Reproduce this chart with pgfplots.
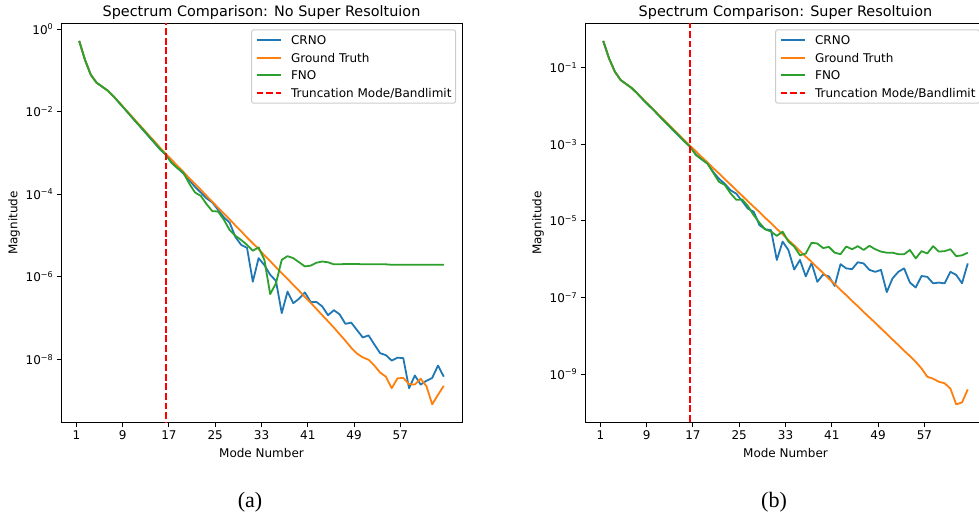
\documentclass[border=0pt]{standalone}
\usepackage{pgfplots}
\pgfplotsset{compat=1.18}
\usepackage{pgfplotstable}
\usepackage{fontspec}
\setmainfont{DejaVu Sans}
\newfontfamily\capfont{Liberation Serif}
\definecolor{mplblue}{HTML}{1F77B4}
\definecolor{mplorange}{HTML}{FF7F0E}
\definecolor{mplgreen}{HTML}{2CA02C}

\pgfplotstableread{
k gt crno fno
1 0.513 0.513 0.513
2 0.178 0.178 0.178
3 0.0776 0.0776 0.0776
4 0.0501 0.0501 0.0501
5 0.0398 0.0398 0.0398
6 0.0316 0.0316 0.0316
7 0.0229 0.0229 0.0229
8 1.62e-2 1.58e-2 1.58e-2
9 1.12e-2 1.10e-2 1.10e-2
10 7.94e-3 7.59e-3 7.59e-3
11 5.50e-3 5.25e-3 5.25e-3
12 3.89e-3 3.63e-3 3.72e-3
13 2.69e-3 2.51e-3 2.57e-3
14 1.91e-3 1.74e-3 1.78e-3
15 1.32e-3 1.20e-3 1.23e-3
16 9.33e-4 8.91e-4 8.91e-4
17 6.76e-4 5.75e-4 5.62e-4
18 4.79e-4 4.27e-4 4.27e-4
19 3.47e-4 3.16e-4 3.31e-4
20 2.45e-4 2.19e-4 1.82e-4
21 1.78e-4 1.51e-4 1.10e-4
22 1.29e-4 1.10e-4 9.12e-5
23 9.12e-5 7.94e-5 5.75e-5
24 6.61e-5 6.31e-5 3.89e-5
25 4.68e-5 4.17e-5 3.80e-5
26 3.39e-5 2.75e-5 2.40e-5
27 2.45e-5 2.04e-5 1.35e-5
28 1.74e-5 9.12e-6 9.77e-6
29 1.26e-5 5.89e-6 7.76e-6
30 8.91e-6 5.01e-6 5.89e-6
31 6.46e-6 7.59e-7 4.27e-6
32 4.68e-6 2.82e-6 5.13e-6
33 3.31e-6 1.91e-6 2.57e-6
34 2.40e-6 1.12e-6 3.80e-7
35 1.70e-6 7.94e-7 6.92e-7
36 1.23e-6 1.32e-7 2.57e-6
37 8.91e-7 4.37e-7 3.16e-6
38 6.31e-7 2.29e-7 2.82e-6
39 4.57e-7 2.95e-7 2.24e-6
40 3.24e-7 4.17e-7 1.78e-6
41 2.34e-7 2.45e-7 1.86e-6
42 1.66e-7 2.45e-7 2.19e-6
43 1.17e-7 1.91e-7 2.34e-6
44 8.32e-8 1.17e-7 2.24e-6
45 5.89e-8 1.55e-7 2.00e-6
46 4.07e-8 1.23e-7 2.00e-6
47 2.82e-8 7.24e-8 2.04e-6
48 1.91e-8 7.76e-8 2.04e-6
49 1.38e-8 5.13e-8 2.04e-6
50 1.12e-8 3.39e-8 2.00e-6
51 9.77e-9 3.80e-8 2.00e-6
52 7.08e-9 2.29e-8 2.00e-6
53 4.79e-9 1.41e-8 2.00e-6
54 3.80e-9 1.26e-8 2.00e-6
55 2.00e-9 9.33e-9 1.95e-6
56 3.47e-9 1.10e-8 1.95e-6
57 3.55e-9 1.07e-8 1.95e-6
58 2.51e-9 2.00e-9 1.95e-6
59 2.45e-9 4.07e-9 1.95e-6
60 3.39e-9 2.45e-9 1.95e-6
61 2.24e-9 3.02e-9 1.95e-6
62 8.13e-10 3.55e-9 1.95e-6
63 1.38e-9 7.08e-9 1.95e-6
64 2.29e-9 3.80e-9 1.95e-6
}\leftdata

\pgfplotstableread{
k gt crno fno
1 0.501 0.501 0.501
2 0.176 0.176 0.176
3 0.0794 0.0794 0.0794
4 0.0479 0.0479 0.0479
5 0.0372 0.0372 0.0372
6 0.0288 0.0288 0.0288
7 0.0204 0.0204 0.0204
8 1.45e-2 1.41e-2 1.41e-2
9 1.02e-2 1.00e-2 1.00e-2
10 7.24e-3 7.08e-3 7.08e-3
11 5.13e-3 4.90e-3 4.90e-3
12 3.63e-3 3.47e-3 3.47e-3
13 2.57e-3 2.40e-3 2.45e-3
14 1.82e-3 1.70e-3 1.74e-3
15 1.29e-3 1.20e-3 1.20e-3
16 9.12e-4 8.71e-4 8.71e-4
17 6.61e-4 5.50e-4 5.25e-4
18 4.68e-4 4.07e-4 4.07e-4
19 3.39e-4 3.16e-4 3.16e-4
20 2.40e-4 1.91e-4 1.82e-4
21 1.74e-4 1.26e-4 1.05e-4
22 1.23e-4 9.33e-5 8.71e-5
23 8.91e-5 6.31e-5 5.25e-5
24 6.31e-5 5.13e-5 3.55e-5
25 4.57e-5 3.31e-5 3.63e-5
26 3.24e-5 2.09e-5 2.45e-5
27 2.34e-5 1.74e-5 1.41e-5
28 1.70e-5 7.76e-6 8.91e-6
29 1.20e-5 6.03e-6 6.03e-6
30 8.71e-6 5.75e-6 5.25e-6
31 6.17e-6 9.55e-7 4.07e-6
32 4.47e-6 2.88e-6 5.25e-6
33 3.16e-6 1.74e-6 2.88e-6
34 2.29e-6 5.37e-7 2.14e-6
35 1.62e-6 9.55e-7 1.26e-6
36 1.17e-6 3.55e-7 1.41e-6
37 8.51e-7 7.94e-7 2.69e-6
38 6.03e-7 2.57e-7 2.57e-6
39 4.37e-7 3.98e-7 1.95e-6
40 3.09e-7 3.55e-7 2.09e-6
41 2.24e-7 2.00e-7 1.48e-6
42 1.58e-7 7.41e-7 1.35e-6
43 1.15e-7 5.75e-7 2.14e-6
44 8.13e-8 5.50e-7 1.82e-6
45 5.89e-8 8.32e-7 2.19e-6
46 4.17e-8 7.76e-7 1.74e-6
47 3.02e-8 5.25e-7 2.24e-6
48 2.19e-8 4.68e-7 1.82e-6
49 1.55e-8 5.25e-7 1.58e-6
50 1.12e-8 1.38e-7 1.48e-6
51 7.94e-9 3.16e-7 1.48e-6
52 5.75e-9 4.68e-7 1.35e-6
53 4.07e-9 5.75e-7 1.35e-6
54 2.95e-9 2.45e-7 1.74e-6
55 2.09e-9 1.82e-7 1.05e-6
56 1.41e-9 3.63e-7 1.62e-6
57 8.51e-10 3.47e-7 1.41e-6
58 7.59e-10 2.34e-7 2.19e-6
59 6.31e-10 2.45e-7 1.58e-6
60 5.75e-10 2.34e-7 1.62e-6
61 4.17e-10 4.68e-7 1.82e-6
62 1.62e-10 3.89e-7 1.20e-6
63 1.82e-10 2.34e-7 1.26e-6
64 3.98e-10 7.76e-7 1.48e-6
}\rightdata

\pgfplotsset{legend image code/.code={\draw[line width=1.8pt,#1] (0pt,0pt) -- (24pt,0pt);}}
\pgfplotsset{
  specax/.style={
    scale only axis, width=401pt, height=399.4pt,
    xmin=-2.15, xmax=67.15,
    xtick={0.5,8.5,16.5,24.5,32.5,40.5,48.5,56.5},
    xticklabels={1,9,17,25,33,41,49,57},
    xtick pos=bottom, ytick pos=left,
    tick align=outside, major tick length=4.2pt,
    yminorticks=false, xminorticks=false,
    tick style={black, line width=1pt},
    axis line style={line width=1pt},
    ticklabel style={font=\fontsize{12}{14}\selectfont},
    label style={font=\fontsize{12}{14}\selectfont},
    title style={font=\fontsize{14.4}{17}\selectfont, at={(0.5,1)}, anchor=base, yshift=0.8pt},
    xlabel={Mode Number},
    ylabel={Magnitude},
    xlabel style={at={(axis description cs:0.5,-0.0859)}, anchor=base},
    ylabel style={at={(axis description cs:-0.1085,0.5)}, anchor=base},
    legend cell align=left,
    legend style={at={(1,1)}, anchor=north east, xshift=-6pt, yshift=-6pt,
      draw=black!20, line width=1pt, rounded corners=2pt, fill=white,
      font=\fontsize{12}{14}\selectfont,
      inner xsep=4pt, inner ysep=5.8pt, row sep=8.6pt, column sep=9.6pt,
      nodes={inner xsep=0pt, inner ysep=0pt, text height=9pt, text depth=0pt}},
    every axis plot/.append style={line width=1.8pt, line join=round},
  }
}

\begin{document}
\begin{tikzpicture}
\useasboundingbox (0,0) rectangle (979pt,515pt);
\clip (0,0) rectangle (979pt,515pt);
\begin{axis}[ymode=log, specax, at={(61pt,92.3pt)}, anchor=south west,
  ymin=2.92e-10, ymax=1.374,
  ytick={1,1e-2,1e-4,1e-6,1e-8},
  yticklabels={10\textsuperscript{0},10\textsuperscript{−2},10\textsuperscript{−4},10\textsuperscript{−6},10\textsuperscript{−8}},
  title={Spectrum Comparison: No Super Resoltuion}]
\addplot[mplblue, no marks] table[x=k, y=crno] {\leftdata};
\addlegendentry{CRNO}
\addplot[mplorange, no marks] table[x=k, y=gt] {\leftdata};
\addlegendentry{Ground Truth}
\addplot[mplgreen, no marks] table[x=k, y=fno] {\leftdata};
\addlegendentry{FNO}
\addplot[red, no marks, dash pattern=on 6.7pt off 2.9pt] coordinates {(16,1e-12) (16,100)};
\addlegendentry{Truncation Mode/Bandlimit}
\end{axis}
\begin{axis}[ymode=log, specax, at={(585pt,92.3pt)}, anchor=south west,
  ymin=5.37e-11, ymax=1.445,
  ytick={1e-1,1e-3,1e-5,1e-7,1e-9},
  yticklabels={10\textsuperscript{−1},10\textsuperscript{−3},10\textsuperscript{−5},10\textsuperscript{−7},10\textsuperscript{−9}},
  title={Spectrum Comparison: Super Resoltuion}]
\addplot[mplblue, no marks] table[x=k, y=crno] {\rightdata};
\addlegendentry{CRNO}
\addplot[mplorange, no marks] table[x=k, y=gt] {\rightdata};
\addlegendentry{Ground Truth}
\addplot[mplgreen, no marks] table[x=k, y=fno] {\rightdata};
\addlegendentry{FNO}
\addplot[red, no marks, dash pattern=on 6.7pt off 2.9pt] coordinates {(16,1e-12) (16,100)};
\addlegendentry{Truncation Mode/Bandlimit}
\end{axis}
\node[font=\capfont\fontsize{22}{26}\selectfont] at (250pt,12.5pt) {(a)};
\node[font=\capfont\fontsize{22}{26}\selectfont] at (774pt,12.5pt) {(b)};
\end{tikzpicture}
\end{document}
